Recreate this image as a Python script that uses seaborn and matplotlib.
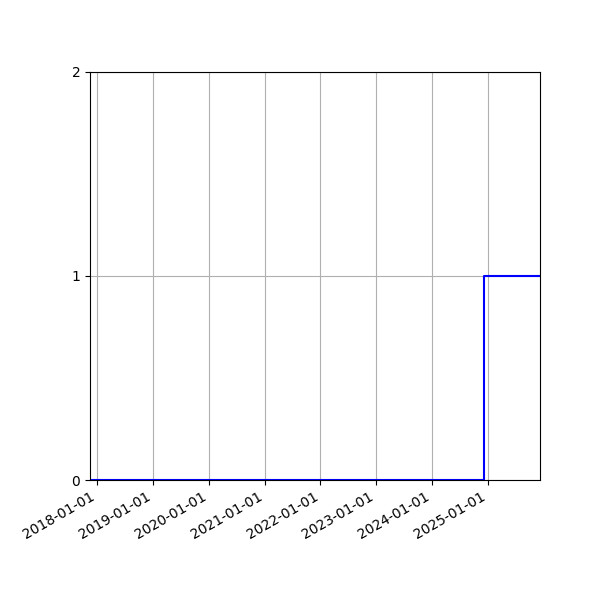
import pandas as pd
import matplotlib
matplotlib.use('Agg')
import matplotlib.pyplot as plt
import matplotlib.dates as mdates
import seaborn as sns

dates = pd.to_datetime(['2017-11-17', '2024-12-05', '2025-12-07'])
values = [0, 1, 1]
y_ticks = [0, 1, 2]

df = pd.DataFrame({'date': dates, 'value': values})

fig = plt.figure(figsize=(6, 6), dpi=100)
ax = fig.add_axes([0.15, 0.2, 0.75, 0.68])
sns.lineplot(data=df, x='date', y='value', ax=ax, color='blue',
             drawstyle='steps-post', linewidth=1.5)

ax.set_xlim(dates[0], dates[-1])
ax.set_ylim(0, 2)
ax.set_yticks(y_ticks)
ax.xaxis.set_major_locator(mdates.YearLocator())
ax.xaxis.set_major_formatter(mdates.DateFormatter('%Y-%m-%d'))
ax.grid(True, color='#b0b0b0', linewidth=0.8)
ax.set_xlabel('')
ax.set_ylabel('')
for lbl in ax.get_xticklabels():
    lbl.set_rotation(30)
    lbl.set_ha('right')

fig.savefig('out.png')
